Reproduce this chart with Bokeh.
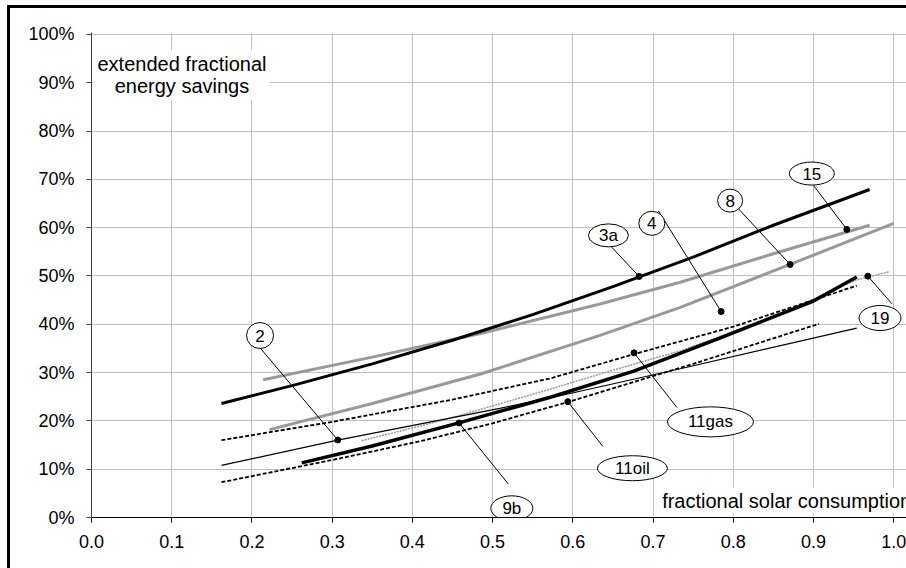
from bokeh.plotting import figure
from bokeh.models import Range1d, FixedTicker, NumeralTickFormatter, Label, ColumnDataSource
from bokeh.embed import file_html
from bokeh.resources import INLINE
from bokeh.core.properties import value

# ---------------- data ----------------
x_ticks = [0.0, 0.1, 0.2, 0.3, 0.4, 0.5, 0.6, 0.7, 0.8, 0.9, 1.0]
y_ticks = [0.0, 0.1, 0.2, 0.3, 0.4, 0.5, 0.6, 0.7, 0.8, 0.9, 1.0]

# curve 3a (black, thick)
s3a_x = [0.162, 0.25, 0.35, 0.45, 0.55, 0.65, 0.75, 0.85, 0.97]
s3a_y = [0.236, 0.273, 0.318, 0.367, 0.420, 0.478, 0.539, 0.605, 0.679]
# curve 15 (grey, thick, upper)
s15_x = [0.214, 0.35, 0.485, 0.634, 0.734, 0.85, 0.97]
s15_y = [0.285, 0.332, 0.381, 0.442, 0.487, 0.546, 0.605]
# curve 8 (grey, thick, lower)
s8_x = [0.222, 0.35, 0.485, 0.634, 0.734, 0.871, 1.0]
s8_y = [0.182, 0.236, 0.297, 0.377, 0.435, 0.524, 0.609]
# curve 2 (black, thin)
s2_x = [0.162, 0.307, 0.509, 0.584, 0.734, 0.954]
s2_y = [0.108, 0.160, 0.226, 0.252, 0.308, 0.392]
# curve 11gas (black dashed, upper)
s11gas_x = [0.162, 0.30, 0.45, 0.572, 0.676, 0.80, 0.954]
s11gas_y = [0.160, 0.198, 0.244, 0.288, 0.338, 0.395, 0.480]
# curve 11oil (black dashed, lower)
s11oil_x = [0.162, 0.30, 0.41, 0.50, 0.594, 0.75, 0.907]
s11oil_y = [0.073, 0.119, 0.158, 0.195, 0.239, 0.318, 0.401]
# curve 9b (black, thickest)
s9b_x = [0.262, 0.35, 0.458, 0.572, 0.676, 0.784, 0.90, 0.954]
s9b_y = [0.113, 0.148, 0.196, 0.249, 0.303, 0.372, 0.448, 0.498]
# curve 19 (grey dotted)
s19_x = [0.337, 0.435, 0.55, 0.65, 0.734, 0.85, 0.95, 0.995]
s19_y = [0.159, 0.200, 0.255, 0.305, 0.345, 0.415, 0.490, 0.509]

# labelled points
lab_text = ["2", "3a", "4", "8", "15", "19", "11gas", "11oil", "9b"]
dot_x = [0.307, 0.6827, 0.7849, 0.8709, 0.9416, 0.9678, 0.6764, 0.5938, 0.4582]
dot_y = [0.1604, 0.4990, 0.4264, 0.5238, 0.5964, 0.4996, 0.3408, 0.2398, 0.1957]
bub_x = [0.2101, 0.6444, 0.6985, 0.7961, 0.8980, 0.9830, 0.7716, 0.6743, 0.5240]
bub_y = [0.3767, 0.5840, 0.6090, 0.6560, 0.7120, 0.4130, 0.1980, 0.1020, 0.0190]
lead_x = [0.2101, 0.6465, 0.7067, 0.8045, 0.9000, 0.9978, 0.7297, 0.6374, 0.5197]
lead_y = [0.3513, 0.5632, 0.6347, 0.6426, 0.6876, 0.4424, 0.2280, 0.1472, 0.0692]

y_title = "extended fractional\nenergy savings"
x_title = "fractional solar consumption"

# ---------------- layout / style ----------------
bub_w = [27, 40, 26, 25, 45, 42, 86, 70, 42]
bub_h = [26, 23, 24, 23, 23, 25, 30, 25, 25]
FONT = "Liberation Sans"

p = figure(width=906, height=568,
           x_range=Range1d(0, 1.016), y_range=Range1d(0, 1.004),
           output_backend="svg", toolbar_location=None,
           min_border_left=91, min_border_right=0,
           min_border_top=32, min_border_bottom=51)
# chart-area frame: only its left and top edges fall inside the window
p.styles = {"box-shadow": "inset 7px 5px 0px 0px white, inset 10px 8px 0px 0px black"}
p.outline_line_color = None
p.background_fill_color = "white"
p.border_fill_color = None

for ax, ticks, fmt in ((p.xaxis, x_ticks, "0.0"), (p.yaxis, y_ticks, "0%")):
    ax.ticker = FixedTicker(ticks=ticks)
    ax.formatter = NumeralTickFormatter(format=fmt)
    ax.major_tick_in = 0
    ax.major_tick_out = 5
    ax.minor_tick_line_color = None
    ax.major_label_text_font = FONT
    ax.major_label_text_font_size = "18px"
    ax.major_label_text_color = "black"
p.xaxis.axis_line_color = "black"
p.xaxis.major_tick_line_color = "black"
p.yaxis.axis_line_color = "#404040"
p.yaxis.major_tick_line_color = "#404040"
p.xaxis.major_label_standoff = 12
p.yaxis.major_label_standoff = 12

p.xgrid.ticker = FixedTicker(ticks=x_ticks)
p.ygrid.ticker = FixedTicker(ticks=y_ticks)
p.grid.grid_line_color = "#c0c0c0"
p.grid.grid_line_width = 1

GREY = "#999999"
p.line(s8_x, s8_y, line_color=GREY, line_width=3)
p.line(s15_x, s15_y, line_color=GREY, line_width=3)
p.line(s3a_x, s3a_y, line_color="black", line_width=3)
p.line(s19_x, s19_y, line_color=GREY, line_width=1.5, line_dash="2 1")
p.line(s2_x, s2_y, line_color="black", line_width=1.2)
p.line(s11gas_x, s11gas_y, line_color="black", line_width=1.8, line_dash="4 2")
p.line(s11oil_x, s11oil_y, line_color="black", line_width=1.8, line_dash="4 2")
p.line(s9b_x, s9b_y, line_color="black", line_width=3.5)

src = ColumnDataSource(dict(t=lab_text, dx=dot_x, dy=dot_y, bx=bub_x, by=bub_y,
                            lx=lead_x, ly=lead_y, w=bub_w, h=bub_h))
p.segment(x0="lx", y0="ly", x1="dx", y1="dy", source=src, line_color="black", line_width=1)
p.scatter(x="dx", y="dy", source=src, size=6, color="black")
p.ellipse(x="bx", y="by", width="w", height="h", width_units="screen", height_units="screen",
          source=src, fill_color="white", line_color="black", line_width=1)
p.text(x="bx", y="by", text="t", source=src, text_align="center", text_baseline="middle",
       text_font=value(FONT), text_font_size=value("17px"), text_color="black")

p.add_layout(Label(x=0.1128, y=0.968, text=y_title, text_align="center", text_baseline="top",
                   text_font=FONT, text_font_size="20px", text_line_height=1.0,
                   text_color="black",
                   background_fill_color="white", padding=3))
p.add_layout(Label(x=0.7089, y=0.0346, text=x_title, text_align="left", text_baseline="alphabetic",
                   text_font=FONT, text_font_size="20px", text_color="black",
                   background_fill_color="white", padding=2))

open("out.html", "w").write(file_html(p, INLINE))
